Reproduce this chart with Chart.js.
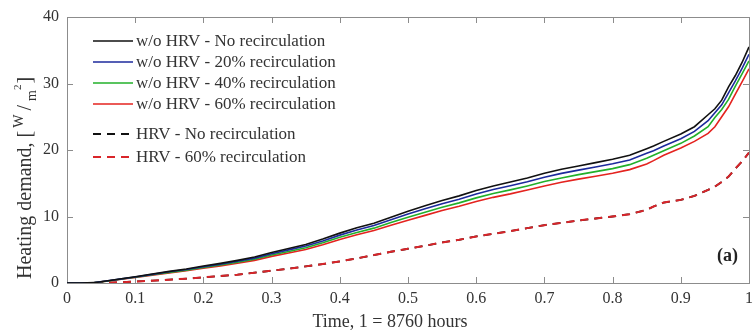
<!DOCTYPE html>
<html>
<head>
<meta charset="utf-8">
<script src="https://cdn.jsdelivr.net/npm/chart.js@4"></script>
<style>
html,body{margin:0;padding:0;background:#fff;}
#wrap{width:754px;height:333px;position:relative;}
</style>
</head>
<body>
<div id="wrap"><canvas id="c" width="754" height="333"></canvas></div>
<script>
const timeFraction = [0,0.02,0.04,0.06,0.08,0.1,0.125,0.15,0.175,0.2,0.225,0.25,0.275,0.3,0.325,0.35,0.375,0.4,0.425,0.45,0.475,0.5,0.525,0.55,0.575,0.6,0.625,0.65,0.675,0.7,0.725,0.75,0.775,0.8,0.825,0.85,0.86,0.875,0.9,0.92,0.94,0.95,0.96,0.97,0.98,0.99,1.0];
const woHrvNoRec = [0,0,0.05,0.35,0.65,0.95,1.35,1.75,2.1,2.55,2.95,3.4,3.9,4.6,5.2,5.8,6.6,7.5,8.3,9.0,9.9,10.8,11.6,12.4,13.1,13.9,14.6,15.2,15.8,16.5,17.1,17.6,18.1,18.6,19.2,20.2,20.6,21.3,22.4,23.5,25.3,26.2,27.5,29.5,31.2,33.2,35.5];
const woHrv20 = [0,0,0.05,0.33,0.62,0.9,1.3,1.68,2.02,2.45,2.83,3.26,3.74,4.4,4.98,5.56,6.33,7.2,7.97,8.65,9.52,10.38,11.15,11.93,12.6,13.37,14.05,14.63,15.22,15.9,16.48,16.97,17.45,17.93,18.5,19.5,19.9,20.6,21.7,22.8,24.4,25.6,26.8,28.6,30.4,32.3,34.4];
const woHrv40 = [0,0,0.05,0.31,0.59,0.86,1.24,1.6,1.93,2.34,2.7,3.11,3.57,4.2,4.75,5.3,6.04,6.88,7.6,8.25,9.1,9.9,10.65,11.4,12.05,12.8,13.45,14.0,14.6,15.25,15.8,16.3,16.75,17.2,17.8,18.75,19.2,19.9,21.0,22.1,23.5,24.9,26.1,27.6,29.6,31.5,33.4];
const woHrv60 = [0,0,0.05,0.29,0.56,0.82,1.18,1.52,1.84,2.23,2.58,2.96,3.4,4.0,4.52,5.05,5.75,6.55,7.25,7.88,8.7,9.45,10.17,10.9,11.53,12.25,12.88,13.4,13.98,14.6,15.15,15.62,16.05,16.5,17.05,17.9,18.4,19.2,20.3,21.3,22.5,23.5,25.0,26.5,28.4,30.3,32.2];
const hrvNoRec = [0,0,0,0.05,0.12,0.22,0.35,0.5,0.65,0.85,1.05,1.25,1.55,1.85,2.15,2.5,2.85,3.25,3.7,4.2,4.7,5.15,5.6,6.1,6.5,7.0,7.4,7.8,8.25,8.7,9.05,9.4,9.7,10.0,10.35,11.0,11.5,12.1,12.5,13.1,14.0,14.5,15.2,16.0,17.2,18.3,19.6];
const hrv60 = [0,0,0,0.05,0.12,0.22,0.35,0.5,0.65,0.85,1.05,1.25,1.55,1.85,2.15,2.5,2.85,3.25,3.7,4.2,4.7,5.15,5.6,6.1,6.5,7.0,7.4,7.8,8.25,8.7,9.05,9.4,9.7,10.0,10.35,11.0,11.5,12.1,12.5,13.1,14.0,14.5,15.2,16.0,17.2,18.3,19.6];
const seriesLabels = ['w/o HRV - No recirculation','w/o HRV - 20% recirculation','w/o HRV - 40% recirculation','w/o HRV - 60% recirculation','HRV - No recirculation','HRV - 60% recirculation'];
const xTitle = 'Time, 1 = 8760 hours';
const panelLabel = '(a)';

const FONT = '"Liberation Serif", "DejaVu Serif", serif';
const TXT = '#333333';

function pts(arr){ return timeFraction.map((t,i)=>({x:t,y:arr[i]})); }

const styles = [
  {c:'#111111', w:1.6, dash:[], order:1},
  {c:'#1c2a9c', w:1.6, dash:[], order:2},
  {c:'#22b02a', w:1.6, dash:[], order:3},
  {c:'#e4231f', w:1.6, dash:[], order:4},
  {c:'#111111', w:1.8, dash:[8,6], order:6},
  {c:'#d9252a', w:2, dash:[8,6], order:5}
];
const seriesData = [woHrvNoRec, woHrv20, woHrv40, woHrv60, hrvNoRec, hrv60];

const datasets = seriesData.map((arr,i)=>({
  label: seriesLabels[i],
  data: pts(arr),
  borderColor: styles[i].c,
  borderWidth: styles[i].w,
  borderDash: styles[i].dash,
  pointRadius: 0,
  tension: 0,
  fill: false,
  order: styles[i].order
}));

const framePlugin = {
  id: 'frame',
  beforeDatasetsDraw(chart){
    const {ctx, chartArea:a, scales:{x,y}} = chart;
    ctx.save();
    ctx.strokeStyle = '#8c8c8c';
    ctx.lineWidth = 1;
    ctx.beginPath();
    x.ticks.forEach(t=>{
      const px = Math.round(x.getPixelForValue(t.value))+0.5;
      ctx.moveTo(px, a.bottom); ctx.lineTo(px, a.bottom-6);
      ctx.moveTo(px, a.top); ctx.lineTo(px, a.top+6);
    });
    y.ticks.forEach(t=>{
      const py = Math.round(y.getPixelForValue(t.value))+0.5;
      ctx.moveTo(a.left, py); ctx.lineTo(a.left+6, py);
      ctx.moveTo(a.right, py); ctx.lineTo(a.right-6, py);
    });
    ctx.stroke();
    ctx.strokeRect(Math.round(a.left)+0.5, Math.round(a.top)+0.5, Math.round(a.right-a.left), Math.round(a.bottom-a.top));
    ctx.restore();
  },
  afterDraw(chart){
    const {ctx, chartArea:a} = chart;
    ctx.save();
    // legend
    const lx = a.left + 26, lineLen = 40;
    const rows = [a.top+24, a.top+45, a.top+66, a.top+87, a.top+117, a.top+140];
    ctx.font = '17px ' + FONT;
    ctx.textBaseline = 'middle';
    ctx.textAlign = 'left';
    datasets.forEach((ds,i)=>{
      ctx.beginPath();
      ctx.strokeStyle = ds.borderColor;
      ctx.lineWidth = ds.borderWidth;
      ctx.setLineDash(ds.borderDash);
      ctx.moveTo(lx, rows[i]); ctx.lineTo(lx+lineLen, rows[i]);
      ctx.stroke();
      ctx.setLineDash([]);
      ctx.fillStyle = TXT;
      ctx.fillText(ds.label, lx+lineLen+3, rows[i]+1);
    });
    // panel label
    ctx.font = 'bold 18px ' + FONT;
    ctx.fillStyle = '#222';
    ctx.textAlign = 'right';
    ctx.fillText(panelLabel, a.right - 11, a.bottom - 27);
    // x title
    ctx.font = '18px ' + FONT;
    ctx.fillStyle = TXT;
    ctx.textAlign = 'center';
    ctx.textBaseline = 'middle';
    ctx.fillText(xTitle, 390, a.bottom + 39);
    // y title with fraction unit
    ctx.translate(25, 279);
    ctx.rotate(-Math.PI/2);
    ctx.textAlign = 'left';
    ctx.textBaseline = 'alphabetic';
    ctx.fillStyle = TXT;
    ctx.font = '20px ' + FONT;
    let cx = 0;
    const s1 = 'Heating demand, [';
    ctx.fillText(s1, cx, 6); cx += ctx.measureText(s1).width + 3;
    ctx.font = '14px ' + FONT;
    ctx.fillText('W', cx, -2); cx += ctx.measureText('W').width + 4;
    ctx.font = '20px ' + FONT;
    ctx.fillText('/', cx, 6); cx += ctx.measureText('/').width + 4;
    ctx.font = '14px ' + FONT;
    ctx.fillText('m', cx, 11); cx += ctx.measureText('m').width;
    ctx.font = '11px ' + FONT;
    ctx.fillText('2', cx, -4); cx += ctx.measureText('2').width + 1;
    ctx.font = '20px ' + FONT;
    ctx.fillText(']', cx, 6);
    ctx.restore();
  }
};

new Chart(document.getElementById('c'), {
  type: 'line',
  data: { datasets },
  options: {
    responsive: false,
    animation: false,
    events: [],
    layout: { padding: { top: 17, right: 5, left: 0, bottom: 0 } },
    plugins: { legend: { display: false }, tooltip: { enabled: false } },
    scales: {
      x: {
        type: 'linear', min: 0, max: 1,
        ticks: { stepSize: 0.1, color: TXT, font: { family: FONT, size: 16 }, padding: 6, maxRotation: 0,
                 callback: v => String(Number(v.toFixed(2))) },
        grid: { display: false, drawTicks: false },
        border: { display: false },
        title: { display: false, text: xTitle },
        afterFit(s){ s.height = 50; s.paddingRight = 0; s.paddingLeft = 0; }
      },
      y: {
        type: 'linear', min: 0, max: 40,
        ticks: { stepSize: 10, color: TXT, font: { family: FONT, size: 16 }, padding: 8 },
        grid: { display: false, drawTicks: false },
        border: { display: false },
        afterFit(s){ s.width = 67; s.paddingTop = 0; s.paddingBottom = 0; }
      }
    }
  },
  plugins: [framePlugin]
});
</script>
</body>
</html>
